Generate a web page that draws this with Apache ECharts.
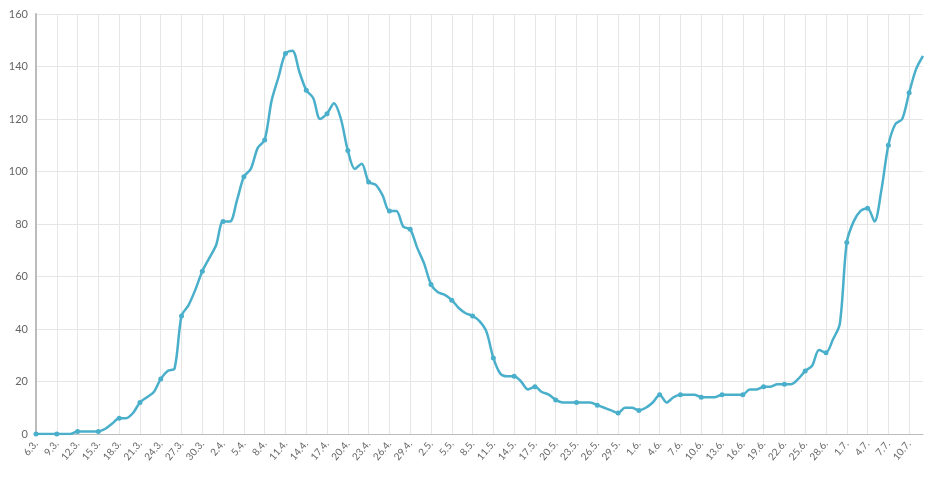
<!DOCTYPE html>
<html>
<head>
<meta charset="utf-8">
<script src="https://cdn.jsdelivr.net/npm/echarts@6/dist/echarts.min.js"></script>
<style>html,body{margin:0;padding:0;background:#fff}#chart{width:940px;height:479px}</style>
</head>
<body>
<div id="chart"></div>
<script>
const march = [0,0,0,0,0,0,1,1,1,1,2,4,6,6,8,12,14,16,21,24,25,45,49,55,62,67];
const april = [72,81,81,89,98,101,109,112,127,136,145,146,138,131,128,120,122,126,120,108,101,103,96,95,91,85,85,79,78,71];
const may = [65,57,54,53,51,48,46,45,43,39,29,23,22,22,20,17,18,16,15,13,12,12,12,12,12,11,10,9,8,10,10];
const june = [9,10,12,15,12,14,15,15,15,14,14,14,15,15,15,15,17,17,18,18,19,19,19,21,24,26,32,31,36,42];
const july = [73,81,85,86,81,93,110,118,120,130,139,144];

const months = [[3, 6, march], [4, 1, april], [5, 1, may], [6, 1, june], [7, 1, july]];
const days = [];
const values = [];
months.forEach(([m, start, arr]) => {
    arr.forEach((v, i) => {
        days.push((start + i) + '.' + m + '.');
        values.push(v);
    });
});

const chart = echarts.init(document.getElementById('chart'));
chart.setOption({
    animation: false,
    grid: { left: 36, right: 17, top: 14, bottom: 45 },
    xAxis: {
        type: 'category',
        data: days,
        boundaryGap: false,
        axisLine: { lineStyle: { color: '#bbb', width: 1 } },
        axisTick: { show: false },
        axisLabel: { interval: 2, rotate: 50, fontSize: 10, color: '#666', fontFamily: 'Lato' },
        splitLine: { show: true, interval: 2, lineStyle: { color: '#e6e6e6' } }
    },
    yAxis: {
        type: 'value',
        min: 0,
        max: 160,
        interval: 20,
        axisLine: { show: true, lineStyle: { color: '#bbb', width: 2 } },
        axisLabel: { fontSize: 11, color: '#666', fontFamily: 'Lato' },
        splitLine: { lineStyle: { color: '#e6e6e6' } }
    },
    series: [{
        type: 'line',
        data: values,
        smooth: 0.3,
        symbol: 'circle',
        symbolSize: 5,
        lineStyle: { color: '#4aafca', width: 2.5 },
        itemStyle: { color: '#4aafca' }
    }]
});
</script>
</body>
</html>
